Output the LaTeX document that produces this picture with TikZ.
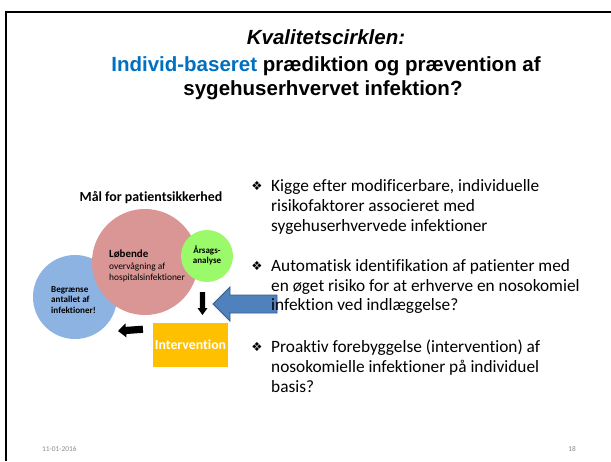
\documentclass[tikz,border=0pt]{standalone}
\usepackage{fontspec}
\setmainfont{Carlito}[Ligatures={NoCommon}]
\newfontfamily\arialf{Liberation Sans}
\newfontfamily\symf{DejaVu Sans}
\definecolor{titleblue}{HTML}{0070C0}
\definecolor{pinkc}{HTML}{D99694}
\definecolor{greenc}{HTML}{9BFA6A}
\definecolor{bluec}{HTML}{8DB3E2}
\definecolor{orangec}{HTML}{FFC000}
\definecolor{arrowfill}{HTML}{4F81BD}
\definecolor{arrowline}{HTML}{385D8A}
\definecolor{footgray}{HTML}{8B8B8B}
\tikzset{
  titleline/.style={font=\arialf\bfseries\fontsize{20.5}{24}\selectfont, anchor=base, inner sep=0},
  bultext/.style={font=\fontsize{17.3}{20}\selectfont, anchor=base west, inner sep=0},
  bulmark/.style={font=\symf\fontsize{12.5}{14}\selectfont, anchor=base, inner sep=0},
  smallbold/.style={font=\bfseries\fontsize{9.1}{11}\selectfont, anchor=base west, inner sep=0},
  smallreg/.style={font=\fontsize{9.4}{11}\selectfont, anchor=base west, inner sep=0},
  foot/.style={font=\fontsize{7.4}{9}\selectfont, text=footgray, inner sep=0},
  blackarrow/.style={fill=black, draw=none},
}
\begin{document}
\begin{tikzpicture}[x=1pt,y=-1pt]
\useasboundingbox (0,0) rectangle (611,461);
\fill[white] (0,0) rectangle (611,461);
% frame
\draw[line width=2pt] (6,461) -- (6,12) -- (612,12);
% title
\node[titleline] (t1) at (326,44) {\itshape Kvalitetscirklen:};
\node[titleline] (t2) at (326,71) {\textcolor{titleblue}{Individ-baseret} prædiktion og prævention af};
\node[titleline] (t3) at (323,95) {sygehuserhvervet infektion?};
% diagram heading
\node[font=\bfseries\fontsize{13.9}{16}\selectfont, anchor=base, inner sep=0] (goal) at (151,201) {Mål for patientsikkerhed};
% circles
\node[circle, fill=bluec, minimum size=84pt, inner sep=0] (blue) at (75,297) {};
\node[circle, fill=pinkc, minimum size=106pt, inner sep=0] (pink) at (145,262) {};
\node[circle, fill=greenc, minimum size=52pt, inner sep=0] (green) at (207,256) {};
% pink text
\node[font=\bfseries\fontsize{10.9}{13}\selectfont, anchor=base west, inner sep=0] (p1) at (109,257) {Løbende};
\node[smallreg] (p2) at (109,269) {overvågning af};
\node[smallreg] (p3) at (109,280) {hospitalsinfektioner};
% green text
\node[font=\bfseries\fontsize{9}{11}\selectfont, anchor=base, inner sep=0] (g1) at (207,253) {Årsags-};
\node[font=\bfseries\fontsize{9}{11}\selectfont, anchor=base, inner sep=0] (g2) at (207,263) {analyse};
% blue text
\node[smallbold] (b1) at (51,292) {Begrænse};
\node[smallbold] (b2) at (51,302.5) {antallet af};
\node[smallbold] (b3) at (51,313) {infektioner!};
% intervention box
\node[fill=orangec, minimum width=75pt, minimum height=44pt, inner sep=0, text=white,
      font=\bfseries\fontsize{13.8}{16}\selectfont] (interv) at (190.5,345) {Intervention};
% down arrow
\coordinate (da) at (202.5,292);
\fill[blackarrow] ([xshift=-2.6pt]da) -- ([xshift=2.6pt]da) -- ([xshift=2.6pt,yshift=-16pt]da)
  -- ([xshift=5pt,yshift=-16pt]da) -- ([yshift=-23pt]da) -- ([xshift=-5pt,yshift=-16pt]da)
  -- ([xshift=-2.6pt,yshift=-16pt]da) -- cycle;
% left arrow
\begin{scope}[shift={(118,331)}, rotate=4]
\coordinate (la) at (0,0);
\fill[blackarrow] (la) -- (8,-7) -- (8,-3.6) -- (25,-3.6) -- (25,3.6) -- (8,3.6) -- (8,7) -- cycle;
\end{scope}
% big blue arrow
\coordinate (bt) at (213,304);
\filldraw[fill=arrowfill, draw=arrowline, line width=0.9pt]
  (bt) -- (230,287) -- (230,295) -- (277,295) -- (277,313) -- (230,313) -- (230,321) -- cycle;
% bullets
\node[bulmark] (m1) at (257,190) {❖};
\node[bultext] (l11) at (271,191) {Kigge efter modificerbare, individuelle};
\node[bultext] (l12) at (271,211) {risikofaktorer associeret med};
\node[bultext] (l13) at (271,231) {sygehuserhvervede infektioner};
\node[bulmark] (m2) at (257,270) {❖};
\node[bultext] (l21) at (271,271) {Automatisk identifikation af patienter med};
\node[bultext] (l22) at (271,291) {en øget risiko for at erhverve en nosokomiel};
\node[bultext] (l23) at (271,310.5) {infektion ved indlæggelse?};
\node[bulmark] (m3) at (257,351) {❖};
\node[bultext] (l31) at (271,352) {Proaktiv forebyggelse (intervention) af};
\node[bultext] (l32) at (271,372) {nosokomielle infektioner på individuel};
\node[bultext] (l33) at (271,392) {basis?};
% footer
\node[foot, anchor=base west] (date) at (42,451) {11-01-2016};
\node[foot, anchor=base east] (page) at (576,451) {18};
\end{tikzpicture}
\end{document}
